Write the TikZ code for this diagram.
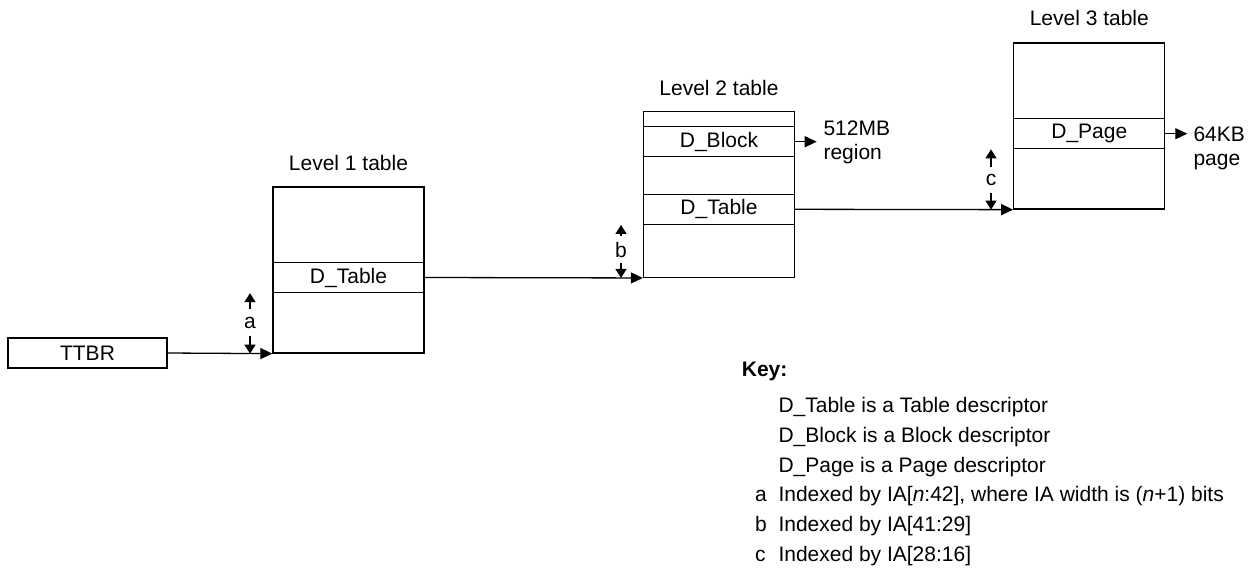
\documentclass[tikz,border=0pt]{standalone}
\usepackage{fontspec}
\setmainfont{Liberation Sans}
\usetikzlibrary{arrows.meta}
\begin{document}
\begin{tikzpicture}[x=1pt,y=-1pt,
  every node/.style={font=\fontsize{21}{24.3}\selectfont, inner sep=0pt},
  lw/.style={line width=1.3pt},
  tbl/.style={draw, lw, minimum width=151pt, minimum height=166pt},
  rowbox/.style={draw, lw, minimum width=151pt, minimum height=30pt},
  conn/.style={lw, -{Triangle[length=12pt,width=11pt]}},
  idxarrow/.style={lw, -{Triangle[length=9pt,width=11pt]}},
  idxlbl/.style={minimum height=26pt},
  keytxt/.style={anchor=base west},
  ttl/.style={anchor=base},
]
\useasboundingbox (0,0) rectangle (1255,568);

% Tables
\node[tbl] (l1) at (348.5,270) {};
\node[tbl] (l2) at (719,194.3) {};
\node[tbl] (l3) at (1089.3,126) {};

% Rows
\node[rowbox] (l1tbl) at (348.5,277.5) {D\_Table};
\node[rowbox] (l2blk) at (719,141.7) {D\_Block};
\node[rowbox] (l2tbl) at (719,209.3) {D\_Table};
\node[rowbox] (l3pg) at (1089.3,133.7) {D\_Page};

% Titles
\node[ttl] (t1) at ([yshift=15.5pt]l1.north) {Level 1 table};
\node[ttl] (t2) at ([yshift=15.5pt]l2.north) {Level 2 table};
\node[ttl] (t3) at ([yshift=16.5pt]l3.north) {Level 3 table};

% TTBR
\node[draw, lw, minimum width=159pt, minimum height=30pt] (ttbr) at (87.5,353) {TTBR};

% Main connectors
\draw[conn] (ttbr.east) -- (l1.south west);
\draw[conn] (l1tbl.east) -- (l2.south west);
\draw[conn] (l2tbl.east) -- (l3.south west);

% Output arrows
\coordinate (blkend) at (816.7,141.7);
\coordinate (pgend) at (1187.3,133.7);
\draw[conn] (l2blk.east) -- (blkend);
\draw[conn] (l3pg.east) -- (pgend);
\node[anchor=north west, align=left] (reg) at (823.3,120.3) {512MB\\region};
\node[anchor=north west, align=left] (pg) at (1193.3,126.7) {64KB\\page};

% Index markers
\node[idxlbl] (ia) at (250,322.5) {a};
\draw[idxarrow] (ia.north) -- (ia.north |- l1tbl.south);
\draw[idxarrow] (ia.south) -- (ia.south |- l1.south);

\node[idxlbl] (ib) at (621,249.5) {b};
\draw[idxarrow] (ib.north) -- (ib.north |- l2tbl.south);
\draw[idxarrow] (ib.south) -- (ib.south |- l2.south);

\node[idxlbl] (ic) at (991,180) {c};
\draw[idxarrow] (ic.north) -- (ic.north |- l3pg.south);
\draw[idxarrow] (ic.south) -- (ic.south |- l3.south);

% Key
\node[keytxt, font=\fontsize{21}{24.3}\selectfont\bfseries] (key) at (741.7,376.7) {Key:};
\node[keytxt] (k1) at (778.3,412.7) {D\_Table is a Table descriptor};
\node[keytxt] (k2) at (778.3,442.3) {D\_Block is a Block descriptor};
\node[keytxt] (k3) at (778.3,472.3) {D\_Page is a Page descriptor};
\node[keytxt] (ka) at (755,501.7) {a};
\node[keytxt] (k4) at (778.3,501.7) {Indexed by IA[\textit{n}:42], where IA width is (\textit{n}+1) bits};
\node[keytxt] (kb) at (755,531.4) {b};
\node[keytxt] (k5) at (778.3,531.4) {Indexed by IA[41:29]};
\node[keytxt] (kc) at (755,561) {c};
\node[keytxt] (k6) at (778.3,561) {Indexed by IA[28:16]};
\end{tikzpicture}
\end{document}
